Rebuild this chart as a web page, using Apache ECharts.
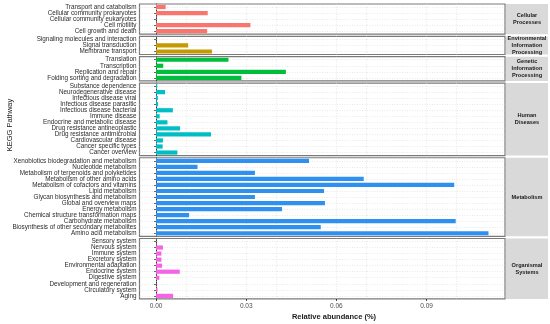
<!DOCTYPE html>
<html><head><meta charset="utf-8">
<script src="https://cdn.jsdelivr.net/npm/echarts@6/dist/echarts.min.js"></script>
<style>html,body{margin:0;padding:0;background:#fff}#c{width:550px;height:324px}</style>
</head><body><div id="c"></div>
<script>
// ---- data ----
const groupNames = ['Cellular\nProcesses', 'Environmental\nInformation\nProcessing', 'Genetic\nInformation\nProcessing', 'Human\nDiseases', 'Metabolism', 'Organismal\nSystems'];
const groupColors = ['#F8766D', '#C49A00', '#00BE3C', '#00BFC4', '#2E90F0', '#F564E3'];

const cellularCats = ['Transport and catabolism', 'Cellular community prokaryotes', 'Cellular community eukaryotes', 'Cell motility', 'Cell growth and death'];
const cellularVals = [0.0032, 0.0172, 0.0, 0.0314, 0.0170];

const environmentalCats = ['Signaling molecules and interaction', 'Signal transduction', 'Membrane transport'];
const environmentalVals = [0.0, 0.0107, 0.0186];

const geneticCats = ['Translation', 'Transcription', 'Replication and repair', 'Folding sorting and degradation'];
const geneticVals = [0.0241, 0.0024, 0.0432, 0.0284];

const humanCats = ['Substance dependence', 'Neurodegenerative disease', 'Infectious disease viral', 'Infectious disease parasitic', 'Infectious disease bacterial', 'Immune disease', 'Endocrine and metabolic disease', 'Drug resistance antineoplastic', 'Drug resistance antimicrobial', 'Cardiovascular disease', 'Cancer specific types', 'Cancer overview'];
const humanVals = [0.0004, 0.0030, 0.0006, 0.0007, 0.0056, 0.0012, 0.0038, 0.0080, 0.0183, 0.0023, 0.0022, 0.0071];

const metabolismCats = ['Xenobiotics biodegradation and metabolism', 'Nucleotide metabolism', 'Metabolism of terpenoids and polyketides', 'Metabolism of other amino acids', 'Metabolism of cofactors and vitamins', 'Lipid metabolism', 'Glycan biosynthesis and metabolism', 'Global and overview maps', 'Energy metabolism', 'Chemical structure transformation maps', 'Carbohydrate metabolism', 'Biosynthesis of other secondary metabolites', 'Amino acid metabolism'];
const metabolismVals = [0.0509, 0.0138, 0.0329, 0.0691, 0.0992, 0.0559, 0.0329, 0.0562, 0.0419, 0.0110, 0.0997, 0.0548, 0.1106];

const organismalCats = ['Sensory system', 'Nervous system', 'Immune system', 'Excretory system', 'Environmental adaptation', 'Endocrine system', 'Digestive system', 'Development and regeneration', 'Circulatory system', 'Aging'];
const organismalVals = [0.0, 0.0023, 0.0018, 0.0018, 0.0020, 0.0079, 0.0011, 0.0, 0.0005, 0.0057];

const tickValues = [0, 0.03, 0.06, 0.09];
const gridValues = [0, 0.015, 0.03, 0.045, 0.06, 0.075, 0.09, 0.105];
const xName = 'Relative abundance (%)';
const yName = 'KEGG Pathway';

// ---- layout ----
const cats = [cellularCats, environmentalCats, geneticCats, humanCats, metabolismCats, organismalCats];
const vals = [cellularVals, environmentalVals, geneticVals, humanVals, metabolismVals, organismalVals];
const top0 = 4, rowH = 6.04, gap = 2.2, left = 139.5, right = 505, stripX = 506, stripW = 42;
const xMin = -0.0055, xMax = 0.1161;

const grids = [], xAxes = [], yAxes = [], series = [], graphics = [];
let y = top0;
cats.forEach((c, i) => {
  const h = c.length * rowH;
  grids.push({left: left, width: right - left, top: y, height: h, show: true, borderColor: '#7a7a7a', borderWidth: 1.2, backgroundColor: '#fff'});
  const last = i === cats.length - 1;
  xAxes.push({
    type: 'value', gridIndex: i, min: xMin, max: xMax,
    axisLine: {show: false}, splitLine: {show: false},
    axisTick: {show: last, customValues: tickValues, length: 2, lineStyle: {color: '#333'}},
    axisLabel: {show: last, customValues: tickValues, formatter: v => v.toFixed(2), fontSize: 6.5, color: '#4d4d4d', margin: 4, fontFamily: 'Liberation Sans'}
  });
  yAxes.push({
    type: 'category', gridIndex: i, data: c, inverse: true,
    axisLine: {show: true, lineStyle: {color: '#333', width: 1}},
    axisTick: {show: true, alignWithLabel: true, length: 2, lineStyle: {color: '#333'}},
    axisLabel: {interval: 0, fontSize: 6.35, color: '#2b2b2b', margin: 3, fontFamily: 'Liberation Sans'},
    splitLine: {show: false}
  });
  // gridlines
  series.push({
    type: 'line', xAxisIndex: i, yAxisIndex: i, data: [], silent: true, z: 1,
    markLine: {
      silent: true, z: 1, symbol: ['none', 'none'], label: {show: false}, animation: false,
      lineStyle: {color: '#dadada', type: [1, 1.5], width: 0.6},
      data: gridValues.map(v => ({xAxis: v})).concat(c.map(n => ({yAxis: n})))
    }
  });
  series.push({
    type: 'bar', xAxisIndex: i, yAxisIndex: i, data: vals[i], barWidth: 4.2, z: 4,
    itemStyle: {color: groupColors[i]}, animation: false
  });
  graphics.push({
    type: 'rect', shape: {x: stripX, y: y, width: stripW, height: h},
    style: {fill: '#d9d9d9'}, silent: true
  });
  graphics.push({
    type: 'text', x: stripX + stripW / 2, y: y + h / 2,
    style: {text: groupNames[i], fontSize: 5.6, fontWeight: 'bold', fill: '#1a1a1a', align: 'center', verticalAlign: 'middle', lineHeight: 7, fontFamily: 'Liberation Sans'}
  });
  y += h + gap;
});
graphics.push({
  type: 'text', x: 334, y: 317,
  style: {text: xName, fontSize: 7.5, fontWeight: 'bold', fill: '#1a1a1a', align: 'center', verticalAlign: 'middle', fontFamily: 'Liberation Sans'}
});
graphics.push({
  type: 'text', x: 10, y: 125, rotation: Math.PI / 2,
  style: {text: yName, fontSize: 7.5, fill: '#1a1a1a', align: 'center', verticalAlign: 'middle', fontFamily: 'Liberation Sans'}
});

const chart = echarts.init(document.getElementById('c'), null, {renderer: 'canvas'});
chart.setOption({
  animation: false,
  backgroundColor: '#fff',
  grid: grids, xAxis: xAxes, yAxis: yAxes, series: series, graphic: graphics
});
</script></body></html>
